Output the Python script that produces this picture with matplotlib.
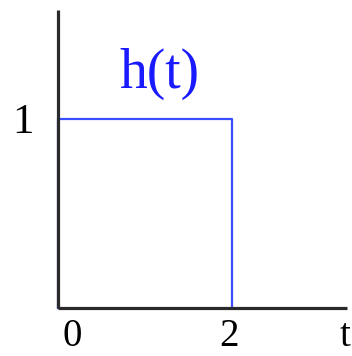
import matplotlib.pyplot as plt

# h(t): rectangular pulse
t_pts = [0, 0, 2, 2]
h_pts = [0, 1, 1, 0]

x_labels = ["0", "2"]
x_label_pos = [0.16, 1.96]
y_labels = ["1"]
y_label_pos = [0.98]

fig = plt.figure(figsize=(3.52, 3.56), dpi=100)
ax = fig.add_axes([0, 0, 1, 1])
ax.set_xlim(-0.667, 3.379)
ax.set_ylim(-0.254, 1.630)
ax.axis("off")

serif = ["Liberation Serif", "DejaVu Serif"]

# pulse
ax.plot(t_pts, h_pts, color="#3a4dff", lw=1.6, zorder=2)

# axes drawn on top of the pulse
ax.plot([0, 0], [1.577, 0], color="#2a2a2a", lw=2.3, solid_capstyle="butt", zorder=3)
ax.plot([0, 3.32], [0, 0], color="#2a2a2a", lw=2.3, solid_capstyle="butt", zorder=3)

ax.text(1.172, 1.241, "h(t)", color="#1a1aff", fontsize=40, family=serif,
        ha="center", va="center")
for lab, pos in zip(y_labels, y_label_pos):
    ax.text(-0.40, pos, lab, fontsize=31, family=serif, ha="center", va="center")
for lab, pos in zip(x_labels, x_label_pos):
    ax.text(pos, -0.150, lab, fontsize=28, family=serif, ha="center", va="center")
ax.text(3.36, -0.150, "t", fontsize=28, family=serif, ha="right", va="center")

fig.savefig("out.png", dpi=100)
